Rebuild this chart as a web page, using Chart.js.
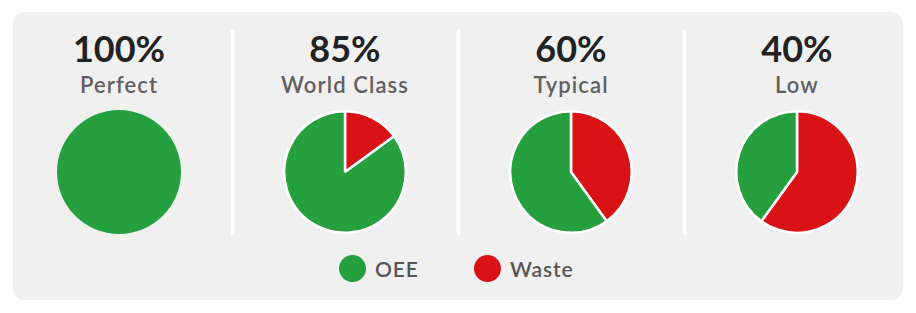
<!DOCTYPE html>
<html>
<head>
<meta charset="utf-8">
<script src="https://cdn.jsdelivr.net/npm/chart.js@4"></script>
<style>
  html, body { margin:0; padding:0; background:#fff; }
  body { width:916px; height:313px; position:relative; overflow:hidden; font-family:Lato, "Open Sans", sans-serif; }
  .panel { position:absolute; left:13px; top:12px; width:890px; height:288px; background:#f0f0f0; border-radius:12px; }
  .sep { position:absolute; top:30px; width:3px; height:205px; background:#fff; box-shadow:0 0 2px #fff; }
  .col { position:absolute; top:0; width:226px; text-align:center; }
  .big { position:absolute; left:0; width:226px; top:27px; font-size:36px; font-weight:700; color:#222; line-height:43px; }
  .name { position:absolute; left:0; width:226px; top:71px; font-size:22px; font-weight:600; color:#606060; letter-spacing:1.1px; line-height:27px; }
  .col canvas { position:absolute; left:0; top:110px; }
  .legend { position:absolute; top:255px; left:0; width:916px; height:28px; }
  .item { position:absolute; top:0; height:28px; font-size:21px; font-weight:600; color:#575757; line-height:28px; letter-spacing:0.9px; }
  .dot { position:absolute; left:0; top:0; width:27px; height:27px; border-radius:50%; }
  .item span { position:absolute; left:36px; top:0; white-space:nowrap; }
</style>
</head>
<body>
<div class="panel"></div>
<div id="wrap"></div>
<div class="legend" id="legend"></div>
<script>
const headlines = ['100%', '85%', '60%', '40%'];
const classes = ['Perfect', 'World Class', 'Typical', 'Low'];
const oeeValues = [100, 85, 60, 40];
const wasteValues = [0, 15, 40, 60];
const seriesNames = ['OEE', 'Waste'];

const GREEN = '#26a03e';
const RED = '#d91315';
const colCenters = [119, 345, 571, 797];

const wrap = document.getElementById('wrap');

// separators between columns
[232, 458, 684].forEach(x => {
  const s = document.createElement('div');
  s.className = 'sep';
  s.style.left = (x - 1) + 'px';
  wrap.appendChild(s);
});

headlines.forEach((h, i) => {
  const col = document.createElement('div');
  col.className = 'col';
  col.style.left = (colCenters[i] - 113) + 'px';
  col.innerHTML = '<div class="big">' + h + '</div><div class="name">' + classes[i] + '</div>';
  const cv = document.createElement('canvas');
  cv.width = 226; cv.height = 124;
  col.appendChild(cv);
  wrap.appendChild(col);

  const full = wasteValues[i] === 0 || oeeValues[i] === 0;
  new Chart(cv, {
    type: 'pie',
    data: {
      labels: [seriesNames[1], seriesNames[0]],
      datasets: [{
        data: [wasteValues[i], oeeValues[i]],
        backgroundColor: [RED, GREEN],
        borderColor: '#ffffff',
        borderWidth: full ? 0 : 2.5
      }]
    },
    options: {
      responsive: false,
      maintainAspectRatio: false,
      animation: false,
      layout: { padding: 0 },
      plugins: { legend: { display: false }, tooltip: { enabled: false } }
    }
  });
});

// legend
const legend = document.getElementById('legend');
const legendX = [339, 474];
const legendColors = [GREEN, RED];
seriesNames.forEach((n, i) => {
  const it = document.createElement('div');
  it.className = 'item';
  it.style.left = legendX[i] + 'px';
  it.innerHTML = '<div class="dot" style="background:' + legendColors[i] + '"></div><span>' + n + '</span>';
  legend.appendChild(it);
});
</script>
</body>
</html>
